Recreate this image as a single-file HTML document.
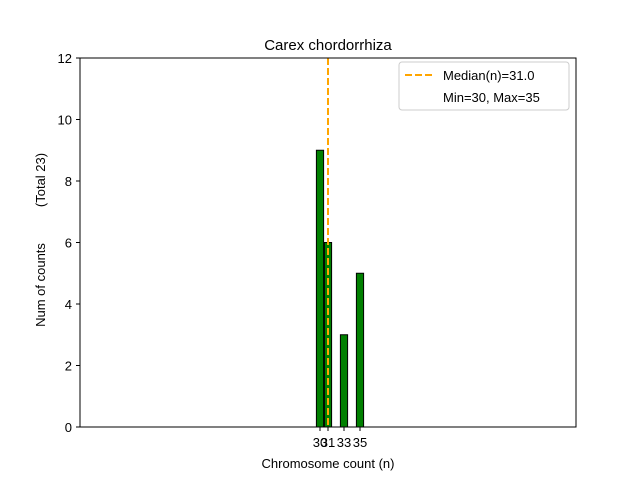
<!DOCTYPE html>
<html><head><style>
body{margin:0;background:#fff}
text{font-family:"Liberation Sans","DejaVu Sans",sans-serif}
</style></head><body>
<svg id="c" width="640" height="480" xmlns="http://www.w3.org/2000/svg">
<rect width="640" height="480" fill="#fff"/>
<text x="328" y="50" font-size="15" text-anchor="middle">Carex chordorrhiza</text>
<g id="plot"></g>
<rect x="80" y="58" width="496" height="369" fill="none" stroke="#000" stroke-width="1"/>
<text x="328" y="468" font-size="13" text-anchor="middle">Chromosome count (n)</text>
<text transform="translate(45,285) rotate(-90)" font-size="13" text-anchor="middle">Num of counts</text>
<text transform="translate(45,180) rotate(-90)" font-size="13" text-anchor="middle">(Total 23)</text>
<g>
<rect x="399" y="62" width="170" height="48" rx="3" fill="#fff" stroke="#ccc"/>
<line x1="405" y1="75" x2="433" y2="75" stroke="orange" stroke-width="2" stroke-dasharray="7,3"/>
<text x="443" y="80" font-size="13">Median(n)=31.0</text>
<text x="443" y="102" font-size="13">Min=30, Max=35</text>
</g>
</svg>
<script>
const categories=[30,31,33,35];
const counts=[9,6,3,5];
const yTicks=[0,2,4,6,8,10,12];
const median=31.0;
const ns="http://www.w3.org/2000/svg";
const g=document.getElementById('plot');
const x=v=>80+(v-0)*8;
const y=v=>427-v*(369/12);
function el(t,a){const e=document.createElementNS(ns,t);for(const k in a)e.setAttribute(k,a[k]);g.appendChild(e);return e;}
let bl=el('line',{x1:x(0),y1:427,x2:x(38.5),y2:427,stroke:'#000','stroke-width':1});


categories.forEach((c,i)=>{
 const r=el('rect',{x:x(c-0.45),y:y(counts[i]),width:7.2,height:427-y(counts[i]),fill:'green',stroke:'#000','stroke-width':1});
 
 
 const t=el('line',{x1:x(c),y1:427,x2:x(c),y2:431,stroke:'#000'});
 
 
 const l=el('text',{x:x(c),y:447,'font-size':13,'text-anchor':'middle'});
 l.textContent=c;
 
 
});
yTicks.forEach(v=>{
 const t=el('line',{x1:76,y1:y(v),x2:80,y2:y(v),stroke:'#000'});
 
 
 const l=el('text',{x:72,y:y(v)+5,'font-size':13,'text-anchor':'end'});
 l.textContent=v;
 
 
});
const m=el('line',{x1:x(median),y1:58,x2:x(median),y2:427,stroke:'orange','stroke-width':2,'stroke-dasharray':'7,3'});


</script>
</body></html>
